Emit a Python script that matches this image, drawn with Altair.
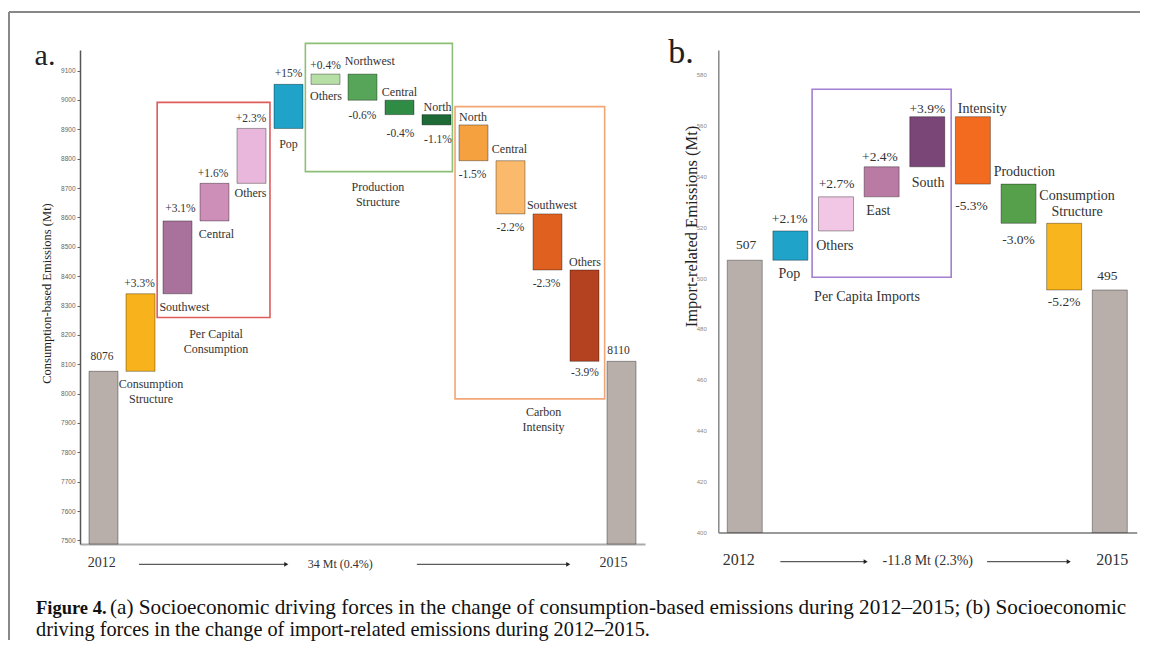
import altair as alt
import pandas as pd

# ---------------- Panel a: consumption-based emissions ----------------
a_names = ["2012", "Consumption\nStructure", "Southwest", "Central", "Others", "Pop",
           "Others", "Northwest", "Central", "North",
           "North", "Central", "Southwest", "Others", "2015"]
a_levels = [8076, 8340, 8588, 8716, 8903, 9053,
            9088, 8999, 8950, 8915,
            8793, 8612, 8421, 8110, 8110]
a_values = ["8076", "+3.3%", "+3.1%", "+1.6%", "+2.3%", "+15%",
            "+0.4%", "-0.6%", "-0.4%", "-1.1%",
            "-1.5%", "-2.2%", "-2.3%", "-3.9%", "8110"]
a_groups = ["Per Capital\nConsumption", "Production\nStructure", "Carbon\nIntensity"]
a_group_bars = [(2, 4), (6, 9), (10, 13)]
a_ticks = [7500, 7600, 7700, 7800, 7900, 8000, 8100, 8200, 8300,
           8400, 8500, 8600, 8700, 8800, 8900, 9000, 9100]
a_change = "34 Mt (0.4%)"
a_title = "Consumption-based Emissions (Mt)"

# ---------------- Panel b: import-related emissions ----------------
b_names = ["2012", "Pop", "Others", "East", "South", "Intensity", "Production",
           "Consumption\nStructure", "2015"]
b_levels = [507, 518.5, 531.9, 543.7, 563.4, 536.9, 521.5, 495.3, 495.3]
b_values = ["507", "+2.1%", "+2.7%", "+2.4%", "+3.9%", "-5.3%", "-3.0%", "-5.2%", "495"]
b_groups = ["Per Capita Imports"]
b_group_bars = [(2, 4)]
b_ticks = [400, 420, 440, 460, 480, 500, 520, 540, 560, 580]
b_change = "-11.8 Mt (2.3%)"
b_title = "Import-related Emissions (Mt)"

caption_bold = "Figure 4."
caption_1 = ("(a) Socioeconomic driving forces in the change of consumption-based emissions "
             "during 2012\u20132015; (b) Socioeconomic")
caption_2 = "driving forces in the change of import-related emissions during 2012\u20132015."

# ---------------- styles / layout ----------------
FONT = "Liberation Serif"
TXT = "#333333"

a_colors = ["#b9afaa", "#f8b31c", "#a9729c", "#cd8fb8", "#e9b7dc", "#20a3c9",
            "#b6dfa6", "#57a559", "#2f8c45", "#1d6a37",
            "#f5a13f", "#fbb96b", "#e0601f", "#b4411f", "#b9afaa"]
b_colors = ["#b9afaa", "#20a3c9", "#f1c7e5", "#b97ba4", "#7a4577",
            "#f26b1f", "#56a04c", "#f9b51d", "#b9afaa"]

A = dict(
    names=a_names, levels=a_levels, values=a_values, colors=a_colors,
    groups=a_groups, group_bars=a_group_bars, ticks=a_ticks, change=a_change, title=a_title,
    W=565, H=494, xdom=[-0.5, 14.5], ydom=[7488, 9170], bw=29,
    val_off=[14, 10, 12, 9.3, 9, 10.3, 8.3, 15.7, 19.3, 15, 14.3, 13.7, 14, 11.3, 10.4],
    val_dx=[-1.5, -1, 3, -1.5, -0.5, 0, 0, 0, 1, 1.5, -1, 0, -1, 0.5, -3],
    name_off=[0, 13, 13, 13, 9.6, 15.7, 11.7, 12.6, 8, 7.3, 7.7, 11.4, 9, 8.3, 0],
    name_dx=[0, 10.7, 7, 2, -1, 0, 0.5, 7.5, 0, 1, -0.5, -1, 4.5, 0.5, 0],
    box_pad=[(6.2, 4.3, 26, 23.7), (6, 1.7, 30.7, 46.7), (4.3, 6, 18.3, 37.6)],
    box_colors=["#de5c5c", "#8dbf78", "#f2a675"],
    group_off=[(2.5, 16.6), (-1, 15), (14, 13)],
    fs_val=11.5, fs_name=12, fs_group=12, fs_year=14, fs_change=12, fs_title=12.5,
    lh=15,
    year_y=513.3, year_dx=(-1.8, -8.2), change_x=6.40, change_y=514,
    arrows=[(0.96, 4.94), (8.47, 12.56)], arrow_y=514.3,
    title_x=-33.5, title_y=243,
    tick_font=6.5, tick_color="#666666", tick_size=3, label_pad=2, ydomain_color="#555555",
    xdomain_color="#aaaaaa",
    letter="a.", letter_x=-35, letter_y=15, letter_fs=30,
)
B = dict(
    names=b_names, levels=b_levels, values=b_values, colors=b_colors,
    groups=b_groups, group_bars=b_group_bars, ticks=b_ticks, change=b_change, title=b_title,
    W=418.4, H=482.5, xdom=[-0.47, 8.48], ydom=[400, 589.6], bw=35,
    val_off=[15.3, 11.7, 12.4, 10, 7.4, 22, 16.7, 11.7, 14],
    val_dx=[1.5, -0.7, 0.5, -1.7, 0, -1.4, 0, 0, -2.5],
    name_off=[0, 14, 15, 14.3, 16, 7.7, 12.3, 27.3, 0],
    name_dx=[0, -1, -1.2, -3.3, 0.8, 9.6, 6, 13.2, 0],
    box_pad=[(7, 7, 27.4, 46.3)],
    box_colors=["#a47fd1"],
    group_off=[(-15, 19.4)],
    fs_val=13.5, fs_name=14, fs_group=14, fs_year=16, fs_change=14, fs_title=16.5,
    lh=15.7,
    year_y=510, year_dx=(-6.2, 2.5), change_x=4.01, change_y=511,
    arrows=[(0.78, 2.65), (5.31, 7.10)], arrow_y=511.7,
    title_x=-27, title_y=176,
    tick_font=6, tick_color="#888888", tick_size=0, label_pad=12, ydomain_color="#888888",
    xdomain_color="#999999",
    letter="b.", letter_x=-37.3, letter_y=13, letter_fs=34,
)


def build_panel(p, extra=None):
    n = len(p["names"])
    PX = p["W"] / (p["xdom"][1] - p["xdom"][0])
    K = p["H"] / (p["ydom"][1] - p["ydom"][0])
    base = p["ydom"][0]
    bw_idx = p["bw"] / PX
    bars, vals, names = [], [], []
    prev = None
    for i in range(n):
        lvl = p["levels"][i]
        total = i == 0 or i == n - 1
        if total:
            lo, hi = base, lvl
        else:
            lo, hi = min(prev, lvl), max(prev, lvl)
        up = total or lvl >= prev
        bars.append(dict(i=i, lo=lo, hi=hi, c=p["colors"][i]))
        off = p["val_off"][i] / K
        vals.append(dict(x=i + p["val_dx"][i] / PX, y=(hi + off) if up else (lo - off),
                         t=p["values"][i]))
        if not total:
            off = p["name_off"][i] / K
            names.append(dict(x=i + p["name_dx"][i] / PX, y=(lo - off) if up else (hi + off),
                              t=p["names"][i]))
        prev = lvl

    boxes, glabels = [], []
    for g, (s, e), pad, col, goff in zip(p["groups"], p["group_bars"], p["box_pad"],
                                         p["box_colors"], p["group_off"]):
        x1 = s - bw_idx / 2 - pad[0] / PX
        x2 = e + bw_idx / 2 + pad[1] / PX
        top = max(bars[k]["hi"] for k in range(s, e + 1)) + pad[2] / K
        bot = min(bars[k]["lo"] for k in range(s, e + 1)) - pad[3] / K
        boxes.append(dict(x1=x1, x2=x2, y1=bot, y2=top, c=col))
        glabels.append(dict(x=(x1 + x2) / 2 + goff[0] / PX, y=bot - goff[1] / K, t=g))

    years = pd.DataFrame(dict(x=[0 + p["year_dx"][0] / PX, n - 1 + p["year_dx"][1] / PX],
                              t=[p["names"][0], p["names"][-1]]))
    change = pd.DataFrame(dict(x=[p["change_x"]], t=[p["change"]]))
    arrows = pd.DataFrame(dict(x1=[a[0] for a in p["arrows"]], x2=[a[1] for a in p["arrows"]]))

    xs = alt.Scale(domain=p["xdom"], nice=False, zero=False)
    ys = alt.Scale(domain=p["ydom"], nice=False, zero=False)
    xaxis = alt.Axis(labels=False, ticks=False, title=None, grid=False,
                     domainColor=p["xdomain_color"], domainWidth=2)
    yaxis = alt.Axis(values=p["ticks"], format="d", grid=False,
                     labelFont="Liberation Sans", labelFontSize=p["tick_font"],
                     labelColor=p["tick_color"], tickSize=p["tick_size"],
                     ticks=p["tick_size"] > 0, tickColor=p["tick_color"],
                     labelPadding=p["label_pad"],
                     domainColor=p["ydomain_color"], domainWidth=1.5,
                     title=p["title"], titleFont=FONT, titleFontSize=p["fs_title"],
                     titleFontWeight="normal", titleColor="#222222",
                     titleX=p["title_x"], titleY=p["title_y"], titleAngle=270,
                     titleAlign="center", titleBaseline="middle")

    def X(f):
        return alt.X(f, scale=xs, axis=xaxis)

    def Y(f):
        return alt.Y(f, scale=ys, axis=yaxis)

    bar_l = alt.Chart(pd.DataFrame(bars)).mark_bar(
        size=p["bw"], stroke="#000000", strokeOpacity=0.35, strokeWidth=1
    ).encode(x=X("i:Q"), y=Y("hi:Q"), y2="lo:Q", color=alt.Color("c:N", scale=None))

    def text_layer(df, fs):
        return alt.Chart(pd.DataFrame(df)).mark_text(
            font=FONT, fontSize=fs, color=TXT, align="center", baseline="middle",
            lineBreak="\n", lineHeight=p["lh"]
        ).encode(x=X("x:Q"), y=Y("y:Q"), text="t:N")

    box_l = alt.Chart(pd.DataFrame(boxes)).mark_rect(fillOpacity=0, strokeWidth=1.6).encode(
        x=X("x1:Q"), x2="x2:Q", y=Y("y1:Q"), y2="y2:Q", stroke=alt.Color("c:N", scale=None))

    year_l = alt.Chart(years).mark_text(font=FONT, fontSize=p["fs_year"], color=TXT,
                                        align="center", baseline="middle").encode(
        x=X("x:Q"), y=alt.value(p["year_y"]), text="t:N")
    change_l = alt.Chart(change).mark_text(font=FONT, fontSize=p["fs_change"], color=TXT,
                                           align="center", baseline="middle").encode(
        x=X("x:Q"), y=alt.value(p["change_y"]), text="t:N")
    arrow_l = alt.Chart(arrows).mark_rule(color="#333333", strokeWidth=1).encode(
        x=X("x1:Q"), x2="x2:Q", y=alt.value(p["arrow_y"]))
    head_l = alt.Chart(arrows).mark_point(shape="triangle-right", filled=True, size=22,
                                          color="#222222", opacity=1).encode(
        x=X("x2:Q"), y=alt.value(p["arrow_y"]))
    letter_l = alt.Chart(pd.DataFrame(dict(t=[p["letter"]]))).mark_text(
        font=FONT, fontSize=p["letter_fs"], color="#222222", align="center",
        baseline="alphabetic").encode(x=alt.value(p["letter_x"]), y=alt.value(p["letter_y"]),
                                      text="t:N")

    layers = [bar_l, box_l, text_layer(vals, p["fs_val"]), text_layer(names, p["fs_name"]),
              text_layer(glabels, p["fs_group"]), year_l, change_l, arrow_l, head_l, letter_l]
    if extra:
        layers += extra
    return alt.layer(*layers).properties(width=p["W"], height=p["H"])


# frame and caption (drawn relative to panel a's plot area)
one = pd.DataFrame(dict(k=[0]))
frame_top = alt.Chart(one).mark_rule(color="#888888", strokeWidth=2).encode(
    x=alt.value(-71), x2=alt.value(1060), y=alt.value(-38))
frame_left = alt.Chart(one).mark_rule(color="#888888", strokeWidth=2).encode(
    x=alt.value(-71), y=alt.value(-38), y2=alt.value(590))
cap_b = alt.Chart(pd.DataFrame(dict(t=[caption_bold]))).mark_text(
    font=FONT, fontSize=18.5, fontWeight="bold", color="#111111", align="left",
    baseline="middle").encode(x=alt.value(-44), y=alt.value(558), text="t:N")
cap_1 = alt.Chart(pd.DataFrame(dict(t=[caption_1]))).mark_text(
    font=FONT, fontSize=21.2, color="#111111", align="left",
    baseline="middle").encode(x=alt.value(30), y=alt.value(558), text="t:N")
cap_2 = alt.Chart(pd.DataFrame(dict(t=[caption_2]))).mark_text(
    font=FONT, fontSize=20.3, color="#111111", align="left",
    baseline="middle").encode(x=alt.value(-44), y=alt.value(580), text="t:N")

panel_a = build_panel(A, extra=[frame_top, frame_left, cap_b, cap_1, cap_2])
panel_b = build_panel(B)

chart = alt.hconcat(panel_a, panel_b, spacing=73.3, bounds="flush").properties(
    padding={"left": 0, "top": 3, "right": 0, "bottom": 0},
    background="white",
).configure_view(stroke=None)

chart.save("out.html", embed_options={"renderer": "svg", "actions": False})
